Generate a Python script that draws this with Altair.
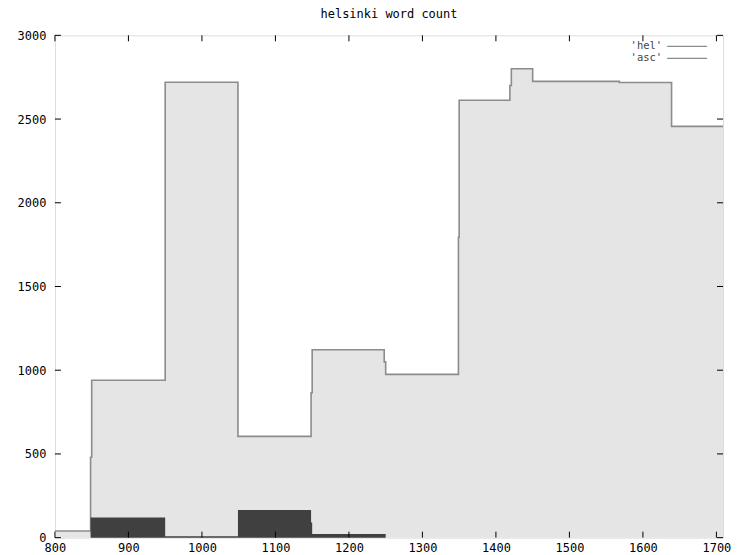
import altair as alt
import pandas as pd

title_text = "helsinki word count"

# 'hel' series (step-after points)
hel_x = [800, 848.5, 850, 950, 1049, 1148.5, 1150, 1248, 1250, 1349, 1350, 1419, 1421, 1450, 1568, 1639, 1709]
hel_y = [40, 480, 940, 2720, 605, 865, 1122, 1050, 975, 1794, 2612, 2700, 2800, 2725, 2718, 2456, 2456]

# 'asc' series (step-after points)
asc_x = [800, 848.5, 950, 1049, 1148.5, 1150, 1250, 1709]
asc_y = [0, 120, 8, 165, 90, 22, 0, 0]

x_ticks = [800, 900, 1000, 1100, 1200, 1300, 1400, 1500, 1600, 1700]
y_ticks = [0, 500, 1000, 1500, 2000, 2500, 3000]
legend_labels = ["'hel'", "'asc'"]

W, H = 669, 503
FONT = "DejaVu Sans Mono"

hel = pd.DataFrame({"x": hel_x, "y": hel_y})
asc = pd.DataFrame({"x": asc_x, "y": asc_y})
xt = pd.DataFrame({"v": x_ticks})
yt = pd.DataFrame({"v": y_ticks})

xs = alt.Scale(domain=[800, 1709], nice=False, zero=False)
ys = alt.Scale(domain=[0, 3000], nice=False)

xaxis = alt.Axis(values=x_ticks, ticks=False, domain=False, grid=False, title=None,
                 labelFont=FONT, labelFontSize=12, labelColor="black", labelPadding=5,
                 labelFlush=False, format="d")
yaxis = alt.Axis(values=y_ticks, ticks=False, domain=False, grid=False, title=None,
                 labelFont=FONT, labelFontSize=12, labelColor="black", labelPadding=9,
                 minExtent=47, maxExtent=47, format="d")

base_x = alt.X("x:Q", scale=xs, axis=xaxis)
base_y = alt.Y("y:Q", scale=ys, axis=yaxis)

hel_area = alt.Chart(hel).mark_area(interpolate="step-after", color="#e5e5e5").encode(x=base_x, y=base_y)
hel_line = alt.Chart(hel).mark_line(interpolate="step-after", color="#8c8c8c", strokeWidth=1.6).encode(
    x=alt.X("x:Q", scale=xs), y=alt.Y("y:Q", scale=ys))
asc_area = alt.Chart(asc).mark_area(interpolate="step-after", color="#404040").encode(
    x=alt.X("x:Q", scale=xs), y=alt.Y("y:Q", scale=ys))

tick_len = 6
bottom_ticks = alt.Chart(xt).mark_rule(color="black").encode(
    x=alt.X("v:Q", scale=xs), y=alt.value(H), y2=alt.value(H - tick_len))
top_ticks = alt.Chart(xt).mark_rule(color="black").encode(
    x=alt.X("v:Q", scale=xs), y=alt.value(0), y2=alt.value(tick_len))
left_ticks = alt.Chart(yt).mark_rule(color="black").encode(
    y=alt.Y("v:Q", scale=ys), x=alt.value(0), x2=alt.value(tick_len))
right_ticks = alt.Chart(yt).mark_rule(color="black").encode(
    y=alt.Y("v:Q", scale=ys), x=alt.value(W), x2=alt.value(W - tick_len))

leg_layers = []
for i, lab in enumerate(legend_labels):
    ypix = 11 + 12 * i
    d = pd.DataFrame({"label": [lab]})
    leg_layers.append(alt.Chart(d).mark_text(font=FONT, fontSize=10.5, color="#444444", align="right",
                                             baseline="middle").encode(
        text="label:N", x=alt.value(608), y=alt.value(ypix)))
    leg_layers.append(alt.Chart(d).mark_rule(color="#8c8c8c", strokeWidth=1.3).encode(
        x=alt.value(613), x2=alt.value(653), y=alt.value(ypix)))

chart = alt.layer(hel_area, hel_line, asc_area, bottom_ticks, top_ticks, left_ticks, right_ticks,
                  *leg_layers).properties(
    width=W, height=H,
    title=alt.TitleParams(text=title_text, font=FONT, fontSize=12, fontWeight="normal",
                          anchor="middle", offset=8, color="black"),
    padding={"left": 0, "top": 0, "right": 10, "bottom": 0},
).configure_view(stroke="black", strokeWidth=1.2).configure(background="white")

chart.save("out.html", embed_options={"renderer": "svg", "actions": False})
